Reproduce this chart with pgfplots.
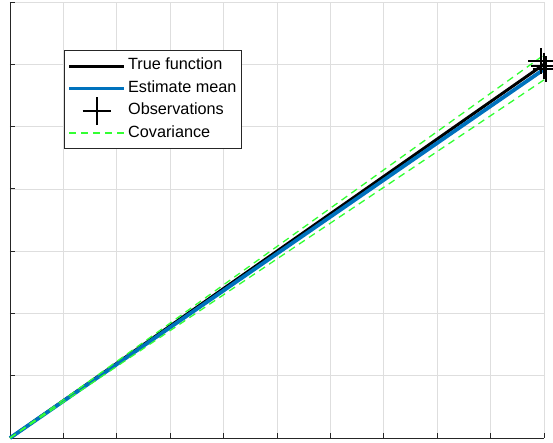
\documentclass[border=0pt]{standalone}
\usepackage{pgfplots}
\pgfplotsset{compat=1.18}
\usepackage{fontspec}
\setmainfont{Liberation Sans}
\definecolor{mblue}{rgb}{0,0.447,0.741}
\definecolor{mgreen}{rgb}{0.2,1,0.2}
\definecolor{axgray}{rgb}{0.15,0.15,0.15}
\begin{document}
\begin{tikzpicture}
\useasboundingbox (-10bp,-5bp) rectangle (543bp,438bp);
\begin{axis}[
  at={(0,0)}, anchor=south west,
  width=534bp, height=436bp, scale only axis,
  xmin=0, xmax=10, ymin=0, ymax=7,
  xtick={0,...,10}, ytick={0,...,7},
  xticklabels={}, yticklabels={},
  axis x line*=bottom, axis y line*=left,
  axis line style={color=axgray, line width=0.8bp, -},
  tick style={color=axgray, line width=0.8bp},
  tick align=inside, major tick length=5bp,
  grid=major, grid style={color=black!13, line width=0.7bp},
  clip=false,
  legend cell align=left,
  legend style={at={(rel axis cs:0.101,0.889)}, anchor=north west,
    draw=axgray, line width=0.8bp, fill=white,
    inner xsep=3bp, inner ysep=4bp, row sep=0pt,
    font=\fontsize{16.3}{19}\selectfont,
    nodes={inner sep=2bp, text height=13bp, text depth=5.5bp, anchor=west}},
]
\addplot[black, line width=3bp,
  legend image code/.code={\path (0bp,-9bp) (55bp,9bp);\draw[black,line width=3bp] (0bp,0bp) -- (55bp,0bp);}]
  coordinates {(0,0) (10,6.0)};
\addlegendentry{True function}
\addplot[mblue, line width=3.8bp,
  legend image code/.code={\path (0bp,-9bp) (55bp,9bp);\draw[mblue,line width=3bp] (0bp,0bp) -- (55bp,0bp);}]
  coordinates {(0,0) (10,5.92)};
\addlegendentry{Estimate mean}
\addplot[only marks, mark=+, mark size=13bp, black, line width=2bp,
  legend image code/.code={\path (0bp,-9bp) (55bp,9bp);\draw[black,line width=1.6bp,overlay] (13.5bp,0bp) -- (41.5bp,0bp) (27.5bp,-14bp) -- (27.5bp,14bp);}]
  coordinates {(9.95,6.05) (10.0,5.98) (10.03,5.92)};
\addlegendentry{Observations}
\addplot[mgreen, line width=1.3bp, dash pattern=on 7bp off 5bp,
  legend image code/.code={\path (0bp,-9bp) (55bp,9bp);\draw[draw=mgreen,line width=2bp,dash pattern=on 7bp off 5bp] (0bp,0.5bp) -- (55bp,0.5bp);}]
  coordinates {(0,0) (10,6.15)};
\addlegendentry{Covariance}
\addplot[mgreen, line width=1.3bp, dash pattern=on 7bp off 5bp, forget plot]
  coordinates {(0,0) (10,5.75)};
\end{axis}
\end{tikzpicture}
\end{document}
